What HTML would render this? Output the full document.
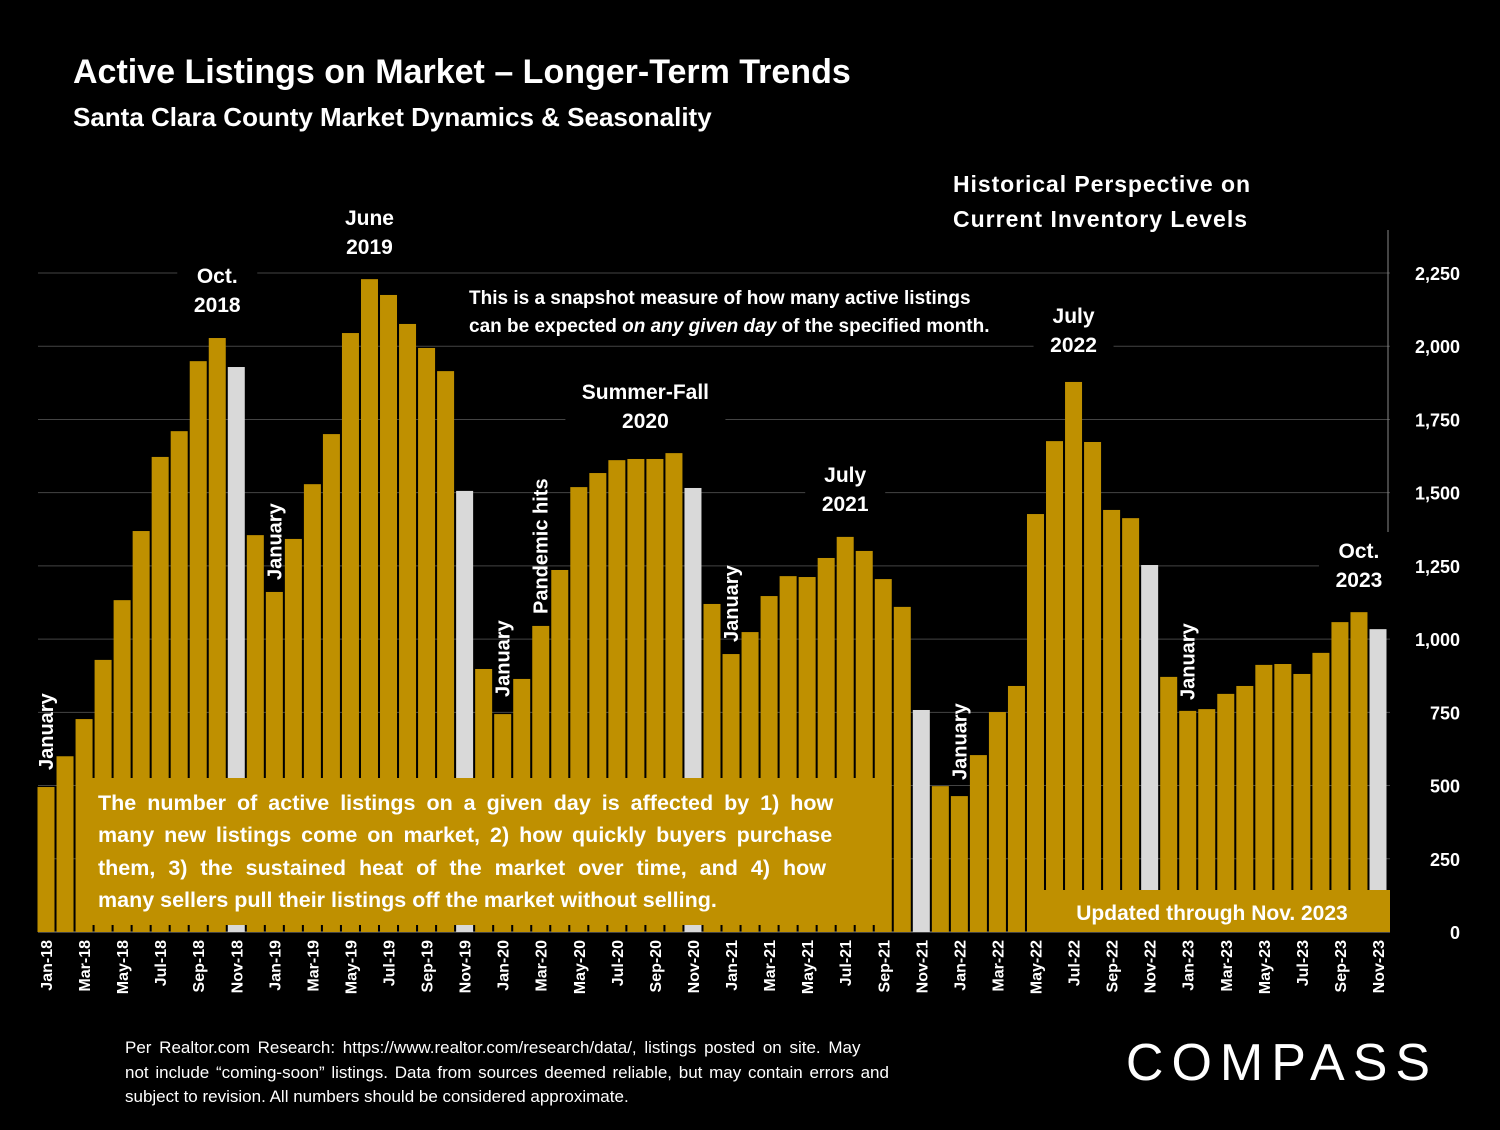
<!DOCTYPE html>
<html><head><meta charset="utf-8"><style>
body{margin:0;background:#000;width:1500px;height:1125px;overflow:hidden;font-family:"Liberation Sans",sans-serif;}
svg text{font-family:"Liberation Sans",sans-serif;}
</style></head><body>
<svg id="c" width="1500" height="1125" viewBox="0 0 1500 1125">
<rect width="1500" height="1125" fill="#000"/>
<text x="73" y="83" fill="#fff" font-size="34" font-weight="bold">Active Listings on Market – Longer-Term Trends</text>
<text x="73" y="126" fill="#fff" font-size="26" font-weight="bold">Santa Clara County Market Dynamics &amp; Seasonality</text>
<text x="953" y="192" fill="#fff" font-size="23" font-weight="bold" textLength="297">Historical Perspective on</text>
<text x="953" y="227" fill="#fff" font-size="23" font-weight="bold" textLength="294">Current Inventory Levels</text>
<g id="grid"></g>
<g id="bars"></g>
<g id="ylabels"></g>
<g id="xlabels"></g>
<g id="notes"></g>
<line x1="1388" y1="230" x2="1388" y2="532" stroke="#888" stroke-width="1"/>
<rect x="88" y="778" width="792" height="147" fill="#bf9000"/>
<g fill="#fff" font-size="21.5" font-weight="bold">
<text x="98" y="810" word-spacing="5">The number of active listings on a given day is affected by 1) how</text>
<text x="98" y="842" word-spacing="4">many new listings come on market, 2) how quickly buyers purchase</text>
<text x="98" y="875" word-spacing="7">them, 3) the sustained heat of the market over time, and 4) how</text>
<text x="98" y="907">many sellers pull their listings off the market without selling.</text>
</g>
<rect x="1043" y="890" width="347" height="42" fill="#bf9000"/>
<text x="1212" y="920" fill="#fff" font-size="21" font-weight="bold" text-anchor="middle">Updated through Nov. 2023</text>
<g fill="#fff" font-size="19" font-weight="bold">
<rect x="460" y="280" width="570" height="60" fill="#000"/>
<text x="469" y="304">This is a snapshot measure of how many active listings</text>
<text x="469" y="332">can be expected <tspan font-style="italic">on any given day</tspan> of the specified month.</text>
</g>
<g fill="#fff" font-size="17">
<text x="125" y="1053" word-spacing="3">Per Realtor.com Research:  https://www.realtor.com/research/data/, listings posted on site. May</text>
<text x="125" y="1078" word-spacing="2">not include “coming-soon” listings. Data from sources deemed reliable, but may contain errors and</text>
<text x="125" y="1102">subject to revision. All numbers should be considered approximate.</text>
</g>
<text x="1282" y="1080" fill="#fff" font-size="52" text-anchor="middle" letter-spacing="8">COMPASS</text>
</svg>
<script>
const categories=["Jan-18","Feb-18","Mar-18","Apr-18","May-18","Jun-18","Jul-18","Aug-18","Sep-18","Oct-18","Nov-18","Dec-18","Jan-19","Feb-19","Mar-19","Apr-19","May-19","Jun-19","Jul-19","Aug-19","Sep-19","Oct-19","Nov-19","Dec-19","Jan-20","Feb-20","Mar-20","Apr-20","May-20","Jun-20","Jul-20","Aug-20","Sep-20","Oct-20","Nov-20","Dec-20","Jan-21","Feb-21","Mar-21","Apr-21","May-21","Jun-21","Jul-21","Aug-21","Sep-21","Oct-21","Nov-21","Dec-21","Jan-22","Feb-22","Mar-22","Apr-22","May-22","Jun-22","Jul-22","Aug-22","Sep-22","Oct-22","Nov-22","Dec-22","Jan-23","Feb-23","Mar-23","Apr-23","May-23","Jun-23","Jul-23","Aug-23","Sep-23","Oct-23","Nov-23"];
const listings=[495,600,727,929,1133,1369,1622,1710,1949,2028,1929,1355,1161,1342,1529,1700,2045,2229,2175,2076,1994,1915,1506,898,744,864,1045,1236,1519,1567,1611,1615,1615,1635,1516,1120,949,1024,1147,1215,1212,1277,1349,1301,1205,1110,758,498,464,604,751,840,1427,1676,1878,1673,1441,1413,1253,871,755,761,813,840,912,915,881,953,1058,1092,1034];
const yTicks=[0,250,500,750,1000,1250,1500,1750,2000,2250];
const NS="http://www.w3.org/2000/svg";
const y0=932,yTop=273,vMax=2250;
function yS(v){return y0-(v/vMax)*(y0-yTop);}
const x0=46,step=(1378-46)/70;
function xS(i){return x0+i*step;}
function mk(t,a,p){const e=document.createElementNS(NS,t);for(const k in a)e.setAttribute(k,a[k]);p.appendChild(e);return e;}
const grid=document.getElementById('grid'),bars=document.getElementById('bars'),yl=document.getElementById('ylabels'),xl=document.getElementById('xlabels'),notes=document.getElementById('notes');
yTicks.forEach(v=>{
 if(v>0){const l=mk('line',{x1:38,x2:1390,y1:yS(v),y2:yS(v),stroke:'#444','stroke-width':1},grid);
 
 }
 const t=mk('text',{x:1460,y:yS(v)+7,fill:'#fff','font-size':18,'font-weight':'bold','text-anchor':'end'},yl);
 t.textContent=v.toLocaleString('en-US');
 
 
});
listings.forEach((v,i)=>{
 const nov=categories[i].startsWith('Nov');
 const r=mk('rect',{x:xS(i)-8.5,y:yS(v),width:17,height:y0-yS(v),fill:nov?'#d9d9d9':'#bf9000'},bars);
 
 
 if(i%2===0){const t=mk('text',{x:0,y:0,fill:'#fff','font-size':16,'font-weight':'bold','text-anchor':'end',transform:`translate(${xS(i)+6},940) rotate(-90)`},xl);
 t.textContent=categories[i];
 
 }
});
mk('line',{x1:38,x2:1390,y1:y0,y2:y0,stroke:'#888','stroke-width':1},grid);
const annX=[["Oct.",9,"2018",312],["June",17,"2019",254],["Summer-Fall",31.5,"2020",428],["July",42,"2021",511],["July",54,"2022",352],["Oct.",69,"2023",587]];
annX.forEach(a=>{
 const cx=xS(a[1]);
 const w=a[0].length>6?160:80;
 mk('rect',{x:cx-w/2,y:a[3]-60,width:w,height:68,fill:'#000'},notes);
 const g=mk('text',{x:cx,y:a[3]-29,fill:'#fff','font-size':21,'font-weight':'bold','text-anchor':'middle'},notes);
 g.textContent=a[0];
 
 
 const g2=mk('text',{x:cx,y:a[3],fill:'#fff','font-size':21,'font-weight':'bold','text-anchor':'middle'},notes);
 g2.textContent=a[2];
 
 
});
const vert=[["January",0,770],["January",12,580],["January",24,697],["Pandemic hits",26,614],["January",36,642],["January",48,780],["January",60,700]];
vert.forEach(a=>{
 const t=mk('text',{x:0,y:0,fill:'#fff','font-size':20,'font-weight':'bold',transform:`translate(${xS(a[1])+7},${a[2]}) rotate(-90)`},notes);
 t.textContent=a[0];
 
 
});
</script>
</body></html>
